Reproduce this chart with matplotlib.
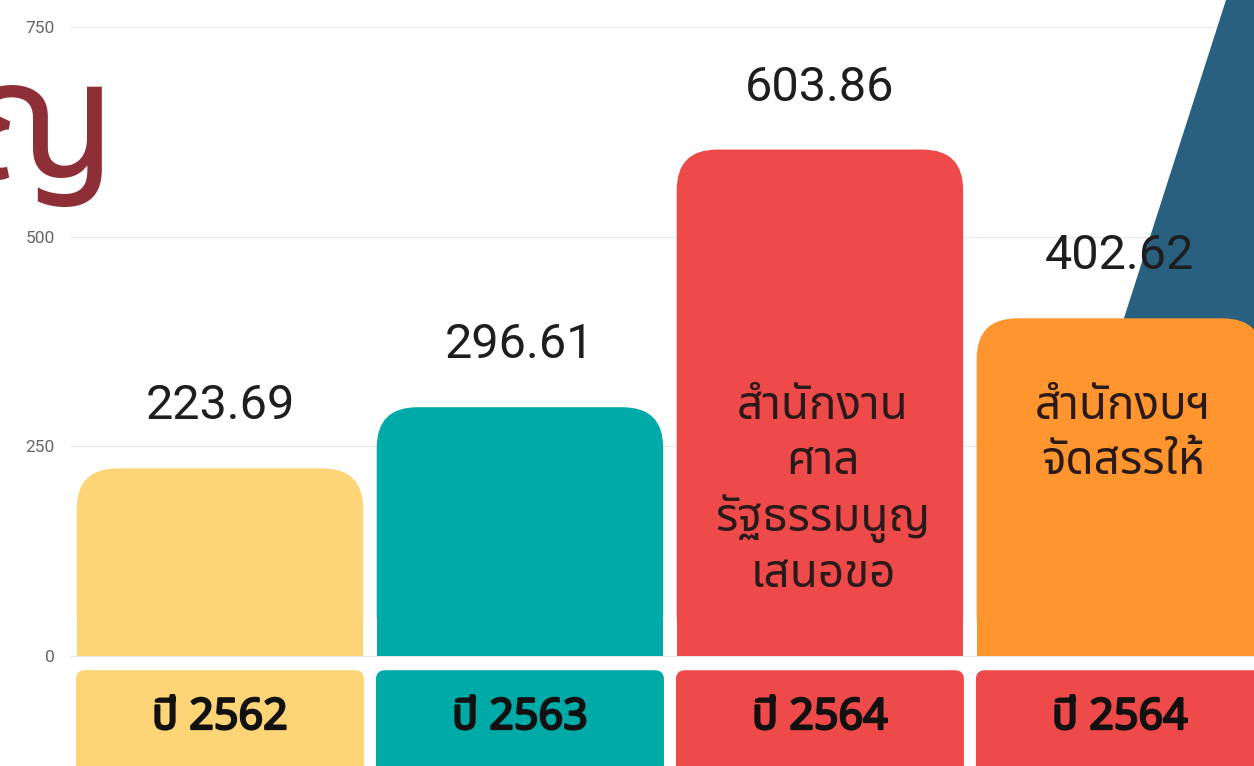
import matplotlib
matplotlib.use("Agg")
import matplotlib.pyplot as plt
import matplotlib.patheffects as pe
from matplotlib import font_manager
from matplotlib.ft2font import FT2Font
from matplotlib.patches import FancyBboxPatch, Rectangle, Polygon

# ==============================
# DATOS
# ==============================

anios = ["ปี 2562", "ปี 2563", "ปี 2564", "ปี 2564"]
valores = [223.69, 296.61, 603.86, 402.62]
etiquetas_valor = ["223.69", "296.61", "603.86", "402.62"]
textos_barra = ["", "", "สำนักงาน\nศาล\nรัฐธรรมนูญ\nเสนอขอ", "สำนักงบฯ\nจัดสรรให้"]
colores_barra = ["#fdd577", "#00aaa6", "#ef4a4a", "#fe952f"]
colores_anio = ["#fdd577", "#00aaa6", "#ef4a4a", "#ef4a4a"]
ticks_y = [0, 250, 500, 750]

# ==============================
# FUENTE CON GLIFOS TAILANDESES
# ==============================

def buscar_fuente_thai():
    candidatas = []
    for f in font_manager.fontManager.ttflist:
        try:
            cmap = FT2Font(f.fname).get_charmap()
        except Exception:
            continue
        if 0x0E1B in cmap and 0x0E0D in cmap:
            candidatas.append(f.name)
    for preferida in ["Noto Sans Thai", "Noto Sans Thai Looped", "Sarabun", "Kanit", "Prompt"]:
        if preferida in candidatas:
            return preferida
    return candidatas[0] if candidatas else None

fuente_thai = buscar_fuente_thai()
familia_thai = [fuente_thai, "DejaVu Sans"] if fuente_thai else ["DejaVu Sans"]

# ==============================
# FIGURA
# ==============================

fig = plt.figure(figsize=(12.54, 7.66), dpi=100)
ax = fig.add_axes([70 / 1254, 0, 1 - 70 / 1254, 1])

ax.set_xlim(-0.5, 3.447)
ax.set_ylim(-131.2, 782.2)

# escala de pixeles por unidad, para las esquinas redondeadas
px_x = 1184 / (3.447 + 0.5)
px_y = 766 / (782.2 + 131.2)
aspecto = px_x / px_y

# forma azul decorativa de fondo (queda detras de la ultima barra)
ax.add_patch(Polygon(
    [(0.9764, 1.0), (1.0, 1.0), (1.0, 0.45), (0.862, 0.45)],
    closed=True, transform=ax.transAxes, facecolor="#29607f",
    edgecolor="none", zorder=1
))

ancho = 0.955
for i, (v, c) in enumerate(zip(valores, colores_barra)):
    ax.add_patch(FancyBboxPatch(
        (i - ancho / 2, 0), ancho, v,
        boxstyle="round,pad=0,rounding_size=0.135",
        mutation_aspect=aspecto, facecolor=c, edgecolor="none", zorder=2
    ))
    ax.add_patch(Rectangle((i - ancho / 2, 0), ancho, v / 2,
                           facecolor=c, edgecolor="none", zorder=2))

    ax.annotate(etiquetas_valor[i], (i, v), xytext=(0, 62), textcoords="offset pixels",
                ha="center", va="center", fontsize=35, color="#1e1e1e",
                family=["Roboto", "DejaVu Sans"], zorder=4)

    if textos_barra[i]:
        ax.text(i + 0.01, 324, textos_barra[i],
                ha="center", va="top", fontsize=33, color="#2a1a1a",
                family=familia_thai, linespacing=1.25, zorder=4)

# cajas de los años bajo el eje
ancho_caja = 0.96
negrita = [pe.withStroke(linewidth=1.6, foreground="#111111")]
for i, (anio, c) in enumerate(zip(anios, colores_anio)):
    ax.add_patch(FancyBboxPatch(
        (i - ancho_caja / 2, -160), ancho_caja, 143,
        boxstyle="round,pad=0,rounding_size=0.03",
        mutation_aspect=aspecto, facecolor=c, edgecolor="none", zorder=2
    ))
    ax.text(i, -74, anio, ha="center", va="center", fontsize=31,
            fontweight="bold", color="#111111", family=familia_thai,
            path_effects=negrita, zorder=4)

# ejes y grilla
ax.set_yticks(ticks_y)
ax.set_yticklabels([str(t) for t in ticks_y], fontsize=12.5, color="#666666",
                   family=["Roboto", "DejaVu Sans"])
ax.tick_params(axis="y", length=0, pad=11)
ax.set_xticks([])
ax.yaxis.grid(True, color="#ebebeb", linewidth=1)
ax.set_axisbelow(True)
for lado in ax.spines.values():
    lado.set_visible(False)

# letra del titulo cortada a la izquierda
fig.text(116 / 1254, 1 - 178 / 766, "ญ", ha="right", va="baseline",
         fontsize=120, color="#8e2f38", family=familia_thai)

fig.savefig("out.png", dpi=100, facecolor="white")
